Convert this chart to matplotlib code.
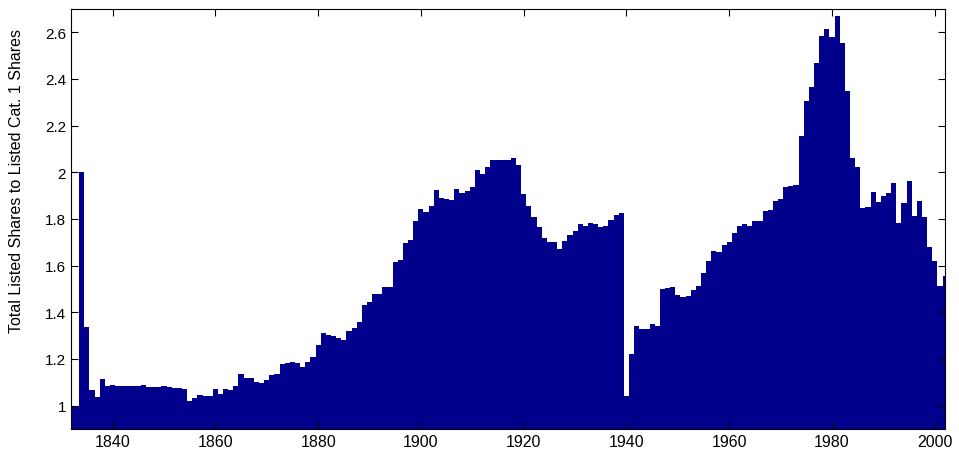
import matplotlib
matplotlib.use('Agg')
import matplotlib.pyplot as plt
import numpy as np

# yearly ratio, 1832 .. 2002
years = list(range(1832, 2003))
ratio = [
    1.0, 1.0, 2.0, 1.335, 1.068, 1.035, 1.112, 1.085,
    1.087, 1.083, 1.084, 1.082, 1.083, 1.082, 1.087, 1.080, 1.079, 1.079,
    1.085, 1.078, 1.074, 1.074, 1.069, 1.021, 1.034, 1.046, 1.039, 1.039,
    1.072, 1.049, 1.071, 1.067, 1.083, 1.136, 1.120, 1.117, 1.100, 1.097,
    1.109, 1.129, 1.134, 1.176, 1.181, 1.186, 1.182, 1.167, 1.187, 1.207,
    1.261, 1.309, 1.301, 1.299, 1.290, 1.279, 1.321, 1.334, 1.356, 1.429,
    1.444, 1.479, 1.479, 1.506, 1.506, 1.614, 1.624, 1.697, 1.710, 1.790,
    1.841, 1.831, 1.856, 1.924, 1.889, 1.887, 1.881, 1.929, 1.911, 1.920,
    1.936, 2.011, 1.993, 2.023, 2.051, 2.051, 2.053, 2.054, 2.059, 2.030,
    1.908, 1.856, 1.810, 1.764, 1.717, 1.703, 1.701, 1.670, 1.706, 1.729,
    1.750, 1.776, 1.771, 1.781, 1.777, 1.764, 1.770, 1.797, 1.816, 1.824,
    1.040, 1.219, 1.340, 1.329, 1.330, 1.350, 1.343, 1.501, 1.503, 1.507,
    1.474, 1.466, 1.471, 1.494, 1.513, 1.570, 1.621, 1.664, 1.656, 1.686,
    1.703, 1.738, 1.771, 1.777, 1.769, 1.789, 1.789, 1.833, 1.839, 1.876,
    1.884, 1.936, 1.940, 1.946, 2.157, 2.307, 2.364, 2.467, 2.586, 2.614,
    2.579, 2.669, 2.554, 2.347, 2.061, 2.021, 1.847, 1.851, 1.914, 1.871,
    1.900, 1.913, 1.956, 1.783, 1.870, 1.964, 1.811, 1.877, 1.807, 1.680,
    1.621, 1.511, 1.554,
]

xticks = list(range(1840, 2001, 20))
yticks = [1, 1.2, 1.4, 1.6, 1.8, 2, 2.2, 2.4, 2.6]
ytick_labels = ['1', '1.2', '1.4', '1.6', '1.8', '2', '2.2', '2.4', '2.6']

plt.rcParams['font.family'] = ['Liberation Sans', 'DejaVu Sans']

fig = plt.figure(figsize=(9.59, 4.52), dpi=100)
ax = fig.add_axes([0.074, 0.049, 0.9115, 0.929])

base = 0.9
heights = np.array(ratio) - base
ax.bar(years, heights, width=1.0, bottom=base, color='#00008c',
       edgecolor='none', linewidth=0)

ax.set_xlim(1831.9, 2002.0)
ax.set_ylim(0.9, 2.7)
ax.set_xticks(xticks)
ax.set_xticklabels([str(t) for t in xticks], fontsize=11.5)
ax.set_yticks(yticks)
ax.set_yticklabels(ytick_labels, fontsize=11)

ax.tick_params(direction='in', top=True, right=True, length=5, width=0.8)
for s in ax.spines.values():
    s.set_linewidth(0.8)

ax.set_ylabel('Total Listed Shares to Listed Cat. 1 Shares', fontsize=11.5)
ax.yaxis.set_label_coords(-0.054, 0.593)

fig.savefig('out.png', dpi=100)
